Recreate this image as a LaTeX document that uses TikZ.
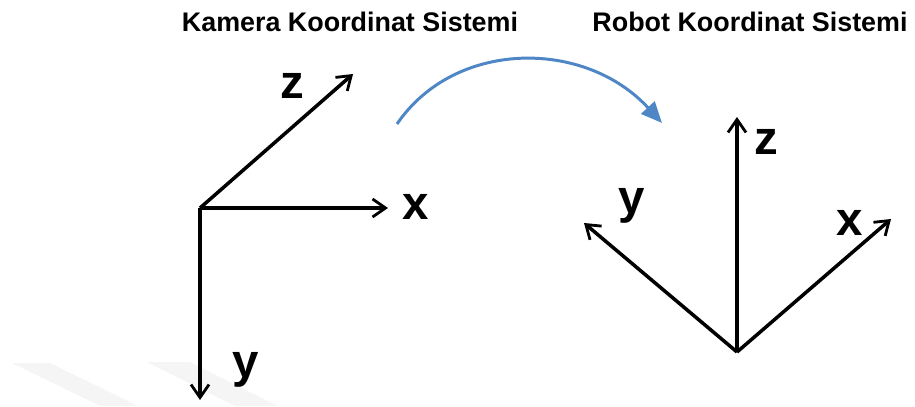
\documentclass[tikz,border=0pt]{standalone}
\usepackage{fontspec}
\setmainfont{Liberation Sans}
\usetikzlibrary{arrows.meta}
\definecolor{turnblue}{HTML}{4F86C6}
\tikzset{
  axis/.style={draw=black, line width=2pt, -{Straight Barb[length=2.6mm,width=3.6mm,line width=1.6pt]}},
  axislabel/.style={font=\fontsize{27}{30}\selectfont\bfseries, inner sep=0pt},
  title/.style={font=\fontsize{15.3}{18}\selectfont\bfseries, inner sep=0pt},
  turnarr/.style={draw=turnblue, line width=1.7pt, -{Triangle[length=4.2mm,width=3.6mm]}},
  bgmark/.style={fill=gray!8, draw=none}
}
\begin{document}
\begin{tikzpicture}[x=0.02cm, y=0.02cm]
  \useasboundingbox (0,0) rectangle (915,406);

  % faint background marks
  \fill[bgmark] (12,43) -- (50,43) -- (138,0) -- (100,0) -- cycle;
  \fill[bgmark] (147,44) -- (190,44) -- (278,0) -- (235,0) -- cycle;

  % camera frame
  \node[title] (camtitle) at (350,384) {Kamera Koordinat Sistemi};
  \coordinate (cam) at (200,198);
  \coordinate (camx) at (388,198);
  \coordinate (camy) at (200,6);
  \coordinate (camz) at (353,332);
  \draw[axis] (cam) -- (camx);
  \draw[axis] (cam) -- (camy);
  \draw[axis] (cam) -- (camz);
  \node[axislabel] (camzl) at (292,320) {z};
  \node[axislabel] (camxl) at (416,199) {x};
  \node[axislabel] (camyl) at (246,36) {y};

  % robot frame
  \node[title] (robtitle) at (750,384) {Robot Koordinat Sistemi};
  \coordinate (rob) at (737,54);
  \coordinate (robz) at (737,289);
  \coordinate (roby) at (584,183);
  \coordinate (robx) at (891,187);
  \draw[axis] (rob) -- (robz);
  \draw[axis] (rob) -- (roby);
  \draw[axis] (rob) -- (robx);
  \node[axislabel] (robzl) at (766,264) {z};
  \node[axislabel] (robyl) at (632,200) {y};
  \node[axislabel] (robxl) at (850,183) {x};

  % transform arrow
  \coordinate (turnA) at (397,282);
  \coordinate (turnB) at (662,283);
  \draw[turnarr] (turnA) .. controls (455,367) and (585,367) .. (turnB);
\end{tikzpicture}
\end{document}
